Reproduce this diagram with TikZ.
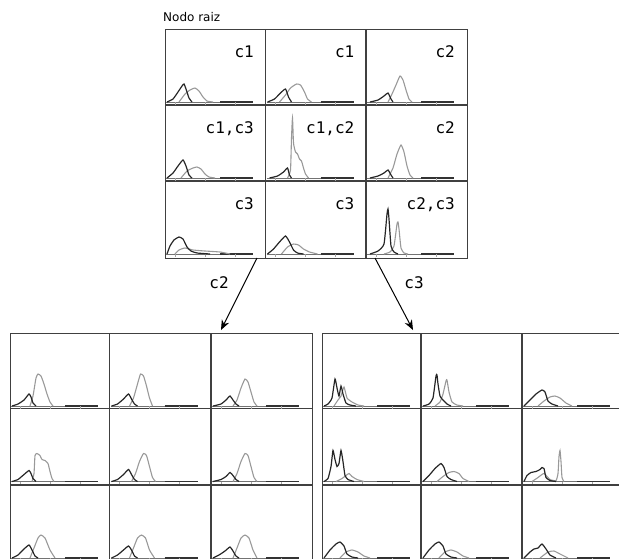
\documentclass[tikz,border=0pt]{standalone}
\usepackage{fontspec}
\setmainfont{DejaVu Sans}
\newfontfamily\monofont{DejaVu Sans Mono}
\usetikzlibrary{arrows.meta}

\begin{document}
\begin{tikzpicture}[x=1pt, y=-1pt,
  marco/.style={draw=black!75, line width=1.3pt},
  rejilla/.style={marco, anchor=north west, inner sep=0pt},
  curvagris/.style={gray!80, line width=1.1pt, smooth, tension=0.3},
  curvanegra/.style={black!85, line width=1.2pt, smooth, tension=0.3},
  etiqueta/.style={font=\monofont\fontsize{16}{16}\selectfont, inner sep=0pt},
  flecha/.style={-{Stealth[length=10pt, width=8pt]}, line width=1pt}]

\clip (0,0) rectangle (619,558);

% ── Helpers ──
% one histogram cell: x0, y0, label, grey curve, black curve (heights above baseline)
\def\celda#1#2#3#4#5{%
  \begin{scope}[shift={(#1,{#2+73})}, yscale=-1]
    \draw[black!55, line width=1pt] (1,0) -- (88,0);
    \draw[black!80, line width=1.6pt] (55,0) -- (88,0);
    \foreach \t in {10,40,70} \draw[gray!70] (\t,0) -- (\t,-2.5);
    \draw[curvagris] plot coordinates {#4};
    \draw[curvanegra] plot coordinates {#5};
    \node[etiqueta, anchor=base east] at (89,45) {#3};
  \end{scope}}

% ── Title ──
\node[font=\fontsize{12}{12}\selectfont, anchor=base west, inner sep=0pt] (titulo) at (163,21) {Nodo raiz};

% ═══════════════════════════════════════
% ROOT GRID
% ═══════════════════════════════════════
\node[rejilla, minimum width=302pt, minimum height=229pt] (raiz) at (165,29) {};
\foreach \c in {265.5,366} \draw[marco] (\c,29) -- (\c,258);
\foreach \r in {105,181} \draw[marco] (165,\r) -- (467,\r);

\celda{165}{29}{c1}
  {(14,0) (20,8) (25,12) (30,14) (34,11) (38,5) (42,1) (48,0)}
  {(2,0) (8,3) (13,10) (17,16) (19,18) (21,13) (24,4) (27,0)}
\celda{265.5}{29}{c1}
  {(14,0) (20,7) (25,14) (31,18) (35,17) (39,10) (42,3) (46,0)}
  {(2,0) (9,3) (15,9) (20,13) (23,5) (26,0)}
\celda{366}{29}{c2}
  {(22,0) (26,8) (30,17) (34,26) (37,22) (40,12) (43,3) (46,0)}
  {(4,0) (12,2) (18,6) (22,9) (25,3) (27,0)}
\celda{165}{105}{c1,c3}
  {(16,0) (22,7) (28,10) (32,11) (36,9) (40,4) (44,1) (50,0)}
  {(2,0) (8,5) (13,12) (18,18) (21,12) (24,3) (27,0)}
\celda{265.5}{105}{c1,c2}
  {(22,0) (25,8) (26,40) (27,60) (28,35) (30,26) (32,24) (34,19) (36,17) (38,10) (40,4) (43,0)}
  {(4,0) (12,2) (18,6) (22,10) (24,3) (26,0)}
\celda{366}{105}{c2}
  {(22,0) (27,10) (31,24) (35,33) (38,26) (41,12) (44,3) (47,0)}
  {(4,0) (12,2) (18,5) (22,8) (25,3) (27,0)}
\celda{165}{181}{c3}
  {(10,0) (14,4) (20,6) (28,4) (40,3) (55,2) (65,0)}
  {(2,0) (5,8) (9,14) (14,17) (18,15) (22,7) (26,3) (32,1) (45,0)}
\celda{265.5}{181}{c3}
  {(16,0) (22,7) (28,10) (33,9) (38,5) (44,2) (52,0)}
  {(2,0) (8,5) (14,12) (20,18) (24,12) (28,4) (32,1) (38,0)}
\celda{366}{181}{c2,c3}
  {(18,0) (24,2) (28,8) (31,30) (32,32) (33,25) (35,6) (38,1) (42,0)}
  {(4,0) (12,3) (18,10) (21,40) (22,45) (23,35) (25,8) (28,2) (32,0)}

% ═══════════════════════════════════════
% CHILD GRIDS
% ═══════════════════════════════════════
\node[rejilla, minimum width=302pt, minimum height=228pt] (hijoc2) at (10,333) {};
\foreach \c in {109.5,211} \draw[marco] (\c,333) -- (\c,561);
\foreach \r in {408.5,485} \draw[marco] (10,\r) -- (312,\r);

\node[rejilla, minimum width=301pt, minimum height=228pt] (hijoc3) at (322,333) {};
\foreach \c in {421,522} \draw[marco] (\c,333) -- (\c,561);
\foreach \r in {408.5,485} \draw[marco] (322,\r) -- (623,\r);

% branch c2
\celda{10}{333}{}
  {(20,0) (23,10) (26,28) (28,32) (31,30) (34,22) (37,12) (40,4) (43,0)}
  {(2,0) (8,2) (14,6) (19,12) (21,9) (23,3) (26,0)}
\celda{109.5}{333}{}
  {(20,0) (24,8) (28,22) (31,32) (34,30) (37,20) (40,8) (43,0)}
  {(2,0) (8,2) (14,7) (19,12) (22,7) (25,2) (28,0)}
\celda{211}{333}{}
  {(22,0) (26,6) (30,18) (34,27) (37,24) (40,14) (43,4) (46,0)}
  {(2,0) (10,2) (15,6) (19,10) (22,6) (25,2) (28,0)}
\celda{10}{408.5}{}
  {(22,0) (24,8) (25,26) (27,28) (30,26) (32,22) (35,21) (38,18) (40,10) (42,3) (44,0)}
  {(2,0) (8,2) (14,7) (19,11) (21,8) (23,3) (26,0)}
\celda{109.5}{408.5}{}
  {(22,0) (26,8) (30,20) (34,28) (37,26) (40,15) (43,4) (46,0)}
  {(2,0) (8,2) (14,7) (19,12) (22,7) (25,2) (28,0)}
\celda{211}{408.5}{}
  {(22,0) (26,8) (30,20) (34,28) (37,26) (40,15) (43,4) (46,0)}
  {(2,0) (10,2) (15,5) (19,9) (22,6) (25,2) (28,0)}
\celda{10}{485}{}
  {(20,0) (24,10) (28,20) (31,23) (35,20) (40,8) (45,0)}
  {(2,0) (8,3) (14,9) (19,13) (22,8) (25,2) (28,0)}
\celda{109.5}{485}{}
  {(20,0) (24,10) (28,20) (32,23) (36,20) (40,8) (45,0)}
  {(2,0) (8,3) (14,8) (19,12) (22,8) (25,2) (28,0)}
\celda{211}{485}{}
  {(22,0) (26,10) (30,20) (34,23) (38,20) (42,8) (46,0)}
  {(2,0) (8,3) (14,7) (19,11) (22,7) (25,2) (28,0)}

% branch c3
\celda{322}{333}{}
  {(12,0) (16,6) (19,10) (22,19) (25,8) (30,4) (36,1) (42,0)}
  {(2,0) (6,2) (10,8) (13,27) (15,18) (17,10) (19,20) (21,12) (24,3) (28,1) (34,0)}
\celda{421}{333}{}
  {(14,0) (19,4) (22,12) (25,25) (26,26) (28,14) (31,4) (36,1) (42,0)}
  {(2,0) (8,2) (12,8) (15,30) (16,31) (17,22) (19,10) (22,6) (26,2) (30,0)}
\celda{522}{333}{}
  {(16,0) (22,5) (28,9) (33,10) (38,8) (44,3) (50,0)}
  {(2,0) (8,6) (14,12) (20,16) (23,14) (26,5) (30,2) (36,0)}
\celda{322}{408.5}{}
  {(14,0) (20,3) (24,6) (27,8) (30,5) (35,2) (42,0)}
  {(2,0) (6,3) (9,15) (11,31) (13,22) (15,15) (17,18) (19,31) (21,20) (23,6) (26,2) (32,0)}
\celda{421}{408.5}{}
  {(16,0) (22,5) (28,9) (33,10) (38,8) (42,3) (48,0)}
  {(2,0) (8,6) (14,13) (20,18) (23,14) (26,5) (30,2) (36,0)}
\celda{522}{408.5}{}
  {(10,0) (16,4) (22,8) (28,2) (34,1) (36,8) (37,25) (38,31) (39,20) (40,4) (42,0)}
  {(2,0) (5,6) (9,9) (14,10) (18,12) (20,14) (22,13) (24,4) (28,1) (34,0)}
\celda{322}{485}{}
  {(18,0) (24,6) (30,8) (36,6) (42,2) (48,0)}
  {(2,0) (8,8) (14,14) (18,16) (22,12) (25,4) (30,1) (36,0)}
\celda{421}{485}{}
  {(18,0) (24,6) (30,8) (36,6) (42,2) (48,0)}
  {(2,0) (8,8) (14,14) (18,16) (22,12) (25,4) (30,1) (36,0)}
\celda{522}{485}{}
  {(18,0) (26,6) (32,7) (38,4) (46,0)}
  {(2,0) (8,6) (12,9) (16,10) (20,14) (24,9) (28,3) (34,0)}

% ── Branches ──
\coordinate (sal-c2) at (257,258);
\coordinate (ent-c2) at (221,330);
\coordinate (sal-c3) at (375,258);
\coordinate (ent-c3) at (413,330);
\draw[flecha] (sal-c2) -- (ent-c2);
\draw[flecha] (sal-c3) -- (ent-c3);
\node[etiqueta] (lbl-c2) at (219,283) {c2};
\node[etiqueta] (lbl-c3) at (414,283) {c3};

\end{tikzpicture}
\end{document}
